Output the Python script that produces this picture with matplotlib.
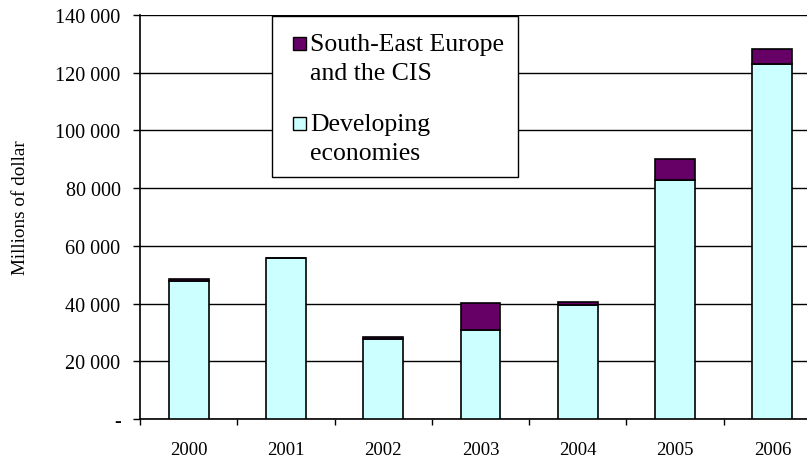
import numpy as np
import matplotlib
matplotlib.use("Agg")
import matplotlib.pyplot as plt
from matplotlib.patches import Rectangle
from matplotlib.ticker import FuncFormatter, FixedLocator

years = ["2000", "2001", "2002", "2003", "2004", "2005", "2006"]
developing = [47800, 55800, 27600, 30800, 39600, 82800, 122900]
see_cis = [800, 0, 700, 9300, 900, 7300, 5300]

series_labels = [["South-East Europe", "and the CIS"], ["Developing", "economies"]]
series_colors = ["#660066", "#CCFFFF"]

plt.rcParams["font.family"] = ["Liberation Serif", "DejaVu Serif"]

W, H = 807, 464
fig = plt.figure(figsize=(W / 100, H / 100), dpi=100)


def px(x, y):
    # pixel position (from top-left) -> figure fraction
    return x / W, 1 - y / H


# plot area runs past the right edge of the image, as in the original
ax = fig.add_axes([140 / W, 44 / H, 681 / W, 404 / H])

x = np.arange(len(years))
bw = 0.41
ax.bar(x, developing, bw, color=series_colors[1], edgecolor="black",
       linewidth=1.2, zorder=3)
ax.bar(x, see_cis, bw, bottom=developing, color=series_colors[0],
       edgecolor="black", linewidth=1.2, zorder=3)

ax.set_xlim(-0.5, len(years) - 0.5)
ax.set_ylim(0, 140000)
ax.set_yticks(np.arange(0, 140001, 20000))
ax.yaxis.set_major_formatter(FuncFormatter(
    lambda v, p: "-" if v == 0 else f"{int(v):,}".replace(",", " ")))
ax.grid(axis="y", color="black", linewidth=1.0, zorder=0)

ax.set_xticks(x)
ax.set_xticklabels(years, fontsize=13.5)
ax.tick_params(axis="x", which="major", length=0, pad=16)
ax.xaxis.set_minor_locator(FixedLocator(np.arange(-0.5, len(years), 1.0)))
ax.tick_params(axis="x", which="minor", length=4.5, direction="out", width=1)
ax.tick_params(axis="y", length=5, width=1, labelsize=14.5, pad=9)

for s in ["top", "right"]:
    ax.spines[s].set_visible(False)
for s in ["left", "bottom"]:
    ax.spines[s].set_linewidth(1.2)

fig.text(*px(21, 208), "Millions of dollar", fontsize=13.8, rotation=90,
         ha="center", va="center")

# legend box, drawn by hand so each swatch sits on the first line
x0, y0 = px(272, 178)
x1, y1 = px(518, 17)
fig.patches.append(Rectangle((x0, y0), x1 - x0, y1 - y0, transform=fig.transFigure,
                             facecolor="white", edgecolor="black", linewidth=1.0,
                             zorder=5))
for i, (lines, col) in enumerate(zip(series_labels, series_colors)):
    base = 51 + i * 80
    sx, sy = px(293, base)
    fig.patches.append(Rectangle((sx, sy), 13 / W, 13 / H, transform=fig.transFigure,
                                 facecolor=col, edgecolor="black", linewidth=1.0,
                                 zorder=6))
    for j, line in enumerate(lines):
        fig.text(*px(310, base + j * 29), line, fontsize=18.5, va="baseline",
                 ha="left", zorder=6)

fig.savefig("out.png", dpi=100)
